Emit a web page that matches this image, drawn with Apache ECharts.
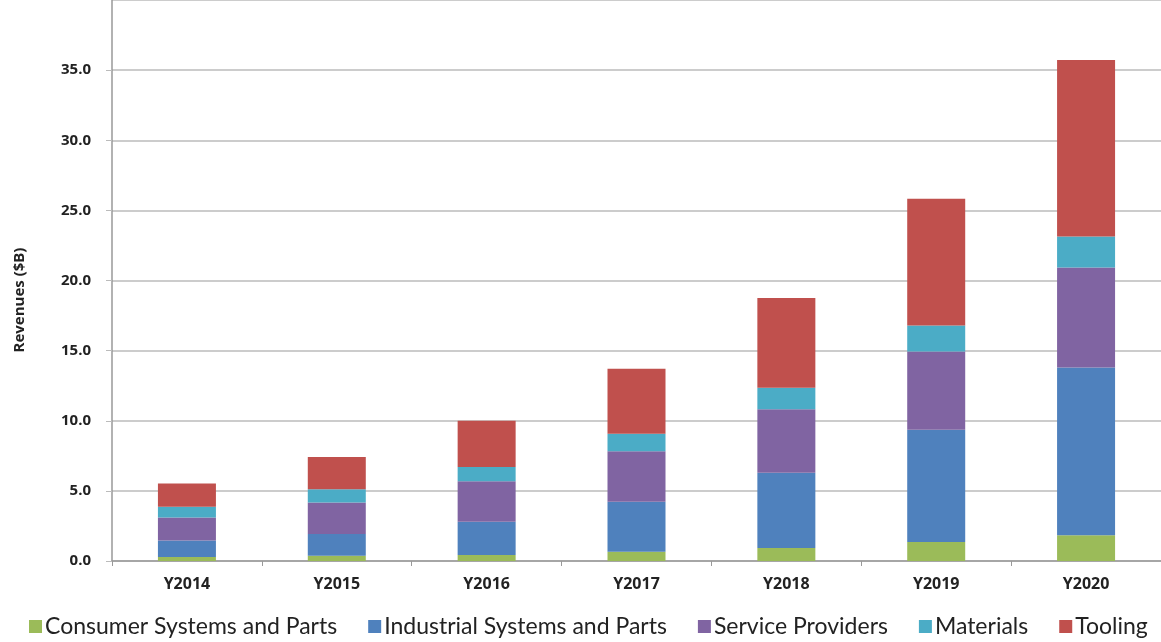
<!DOCTYPE html>
<html>
<head>
<meta charset="utf-8">
<title>Revenues</title>
<script src="https://cdn.jsdelivr.net/npm/echarts@6/dist/echarts.min.js"></script>
<style>
	html, body { margin: 0; padding: 0; background: #FFFFFF; }
	#chart { width: 1161px; height: 642px; }
</style>
</head>
<body>
<div id="chart"></div>
<script>
	var years = ['Y2014', 'Y2015', 'Y2016', 'Y2017', 'Y2018', 'Y2019', 'Y2020'];
	var seriesNames = ['Consumer Systems and Parts', 'Industrial Systems and Parts', 'Service Providers', 'Materials', 'Tooling'];
	var consumer = [0.28, 0.38, 0.43, 0.66, 0.93, 1.35, 1.84];
	var industrial = [1.18, 1.55, 2.37, 3.56, 5.36, 8.00, 11.96];
	var service = [1.65, 2.24, 2.89, 3.60, 4.53, 5.58, 7.12];
	var materials = [0.76, 0.95, 1.02, 1.26, 1.54, 1.86, 2.21];
	var tooling = [1.65, 2.29, 3.29, 4.62, 6.39, 9.03, 12.60];
	var colors = ['#9BBB59', '#4F81BD', '#8064A2', '#4BACC6', '#C0504D'];

	var chart = echarts.init(document.getElementById('chart'));
	var allData = [consumer, industrial, service, materials, tooling];
	var series = [];
	for (var i = 0; i < allData.length; i++) {
		series.push({
			name: seriesNames[i],
			type: 'bar',
			stack: 'total',
			barWidth: 58,
			itemStyle: { color: colors[i] },
			data: allData[i]
		});
	}

	var option = {
		animation: false,
		color: colors,
		textStyle: { fontFamily: 'Open Sans' },
		grid: {
			left: 112,
			right: -7,
			top: -1,
			bottom: 81
		},
		legend: {
			left: 24,
			top: 610,
			itemWidth: 13,
			itemHeight: 13,
			itemGap: 31,
			icon: 'rect',
			textStyle: { fontSize: 23, color: '#222', fontFamily: 'Lato', padding: [0, 0, 0, -2] },
			data: seriesNames
		},
		graphic: [{
			type: 'text',
			x: 20,
			y: 300,
			rotation: Math.PI / 2,
			style: {
				text: 'Revenues ($B)',
				font: 'bold 15px "Open Sans"',
				fill: '#222',
				align: 'center',
				verticalAlign: 'middle'
			}
		}],
		xAxis: {
			type: 'category',
			data: years,
			axisLine: { lineStyle: { color: '#999', width: 1.5 } },
			axisTick: { show: true, length: 5, lineStyle: { color: '#999' } },
			axisLabel: { fontSize: 16, fontWeight: 'bold', color: '#222', margin: 15 }
		},
		yAxis: {
			type: 'value',
			min: 0,
			max: 40,
			interval: 5,
			axisLine: { show: true, lineStyle: { color: '#999', width: 1.5 } },
			axisTick: { show: true, length: 6, lineStyle: { color: '#bbb' } },
			axisLabel: {
				fontSize: 15,
				fontWeight: 'bold',
				color: '#222',
				margin: 21,
				showMaxLabel: false,
				formatter: function (v) { return v.toFixed(1); }
			},
			splitLine: { lineStyle: { color: '#bbb', width: 1.5 } }
		},
		series: series
	};
	chart.setOption(option);
</script>
</body>
</html>
